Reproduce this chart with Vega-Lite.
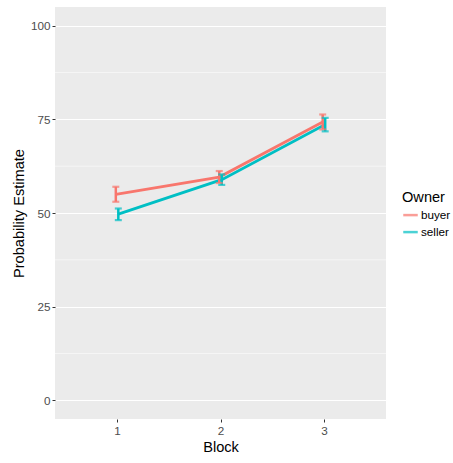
{
  "$schema": "https://vega.github.io/schema/vega-lite/v6.json",
  "width": 331,
  "height": 412,
  "autosize": {"type": "none"},
  "padding": {"left": 55, "top": 7, "right": 67, "bottom": 44},
  "background": "white",
  "config": {
    "font": "Liberation Sans",
    "view": {"fill": "#EBEBEB", "stroke": null},
    "axis": {
      "domain": false,
      "gridColor": "white",
      "gridWidth": 1.1,
      "tickColor": "#333333",
      "tickSize": 3,
      "labelColor": "#4D4D4D",
      "labelFontSize": 11.7,
      "titleFontSize": 14.6,
      "titleFontWeight": "normal",
      "titleColor": "black"
    }
  },
  "datasets": {
    "est": [
      {"Block": 1, "Owner": "buyer", "mean": 55.0, "lo": 53.0, "hi": 57.0},
      {"Block": 2, "Owner": "buyer", "mean": 59.6, "lo": 58.0, "hi": 61.2},
      {"Block": 3, "Owner": "buyer", "mean": 74.3, "lo": 72.3, "hi": 76.3},
      {"Block": 1, "Owner": "seller", "mean": 49.7, "lo": 48.1, "hi": 51.2},
      {"Block": 2, "Owner": "seller", "mean": 58.9, "lo": 57.5, "hi": 60.3},
      {"Block": 3, "Owner": "seller", "mean": 73.6, "lo": 71.8, "hi": 75.4}
    ],
    "minor": [{"y": 12.5}, {"y": 37.5}, {"y": 62.5}, {"y": 87.5}]
  },
  "layer": [
    {
      "data": {"name": "minor"},
      "mark": {"type": "rule", "color": "white", "strokeWidth": 0.55},
      "encoding": {
        "y": {"field": "y", "type": "quantitative", "scale": {"domain": [-5, 105], "nice": false, "zero": false}}
      }
    },
    {
      "data": {"name": "est"},
      "encoding": {
        "x": {
          "field": "Block", "type": "ordinal",
          "scale": {"type": "point", "padding": 0.6},
          "axis": {"labelAngle": 0, "labelPadding": 3, "titleY": 28, "titleBaseline": "middle", "title": "Block"}
        },
        "xOffset": {"field": "Owner", "type": "nominal", "scale": {"type": "point", "range": [-2.5, 2.5]}},
        "color": {
          "field": "Owner", "type": "nominal",
          "scale": {"domain": ["buyer", "seller"], "range": ["#F8766D", "#00BFC4"]},
          "legend": {
            "orient": "none", "legendX": 347, "legendY": 183,
            "symbolType": "stroke", "symbolSize": 210, "symbolStrokeWidth": 2.5,
            "titleFontSize": 14.6, "titleFontWeight": "normal", "titleColor": "black",
            "labelFontSize": 11.7, "labelColor": "black", "labelOffset": 2,
            "rowPadding": 1, "titlePadding": 2
          }
        }
      },
      "layer": [
        {
          "mark": {"type": "line", "strokeWidth": 2.8},
          "encoding": {
            "y": {
              "field": "mean", "type": "quantitative",
              "scale": {"domain": [-5, 105], "nice": false, "zero": false},
              "axis": {"values": [0, 25, 50, 75, 100], "title": "Probability Estimate", "titleX": -36, "titleY": 206, "titleAngle": -90, "titleAlign": "center", "titleBaseline": "middle", "labelPadding": 2}
            }
          }
        },
        {
          "mark": {"type": "rule", "strokeWidth": 2.5},
          "encoding": {
            "y": {"field": "lo", "type": "quantitative"},
            "y2": {"field": "hi"}
          }
        },
        {
          "mark": {"type": "tick", "orient": "horizontal", "size": 7, "thickness": 2.2},
          "encoding": {"y": {"field": "lo", "type": "quantitative"}}
        },
        {
          "mark": {"type": "tick", "orient": "horizontal", "size": 7, "thickness": 2.2},
          "encoding": {"y": {"field": "hi", "type": "quantitative"}}
        }
      ]
    }
  ]
}
